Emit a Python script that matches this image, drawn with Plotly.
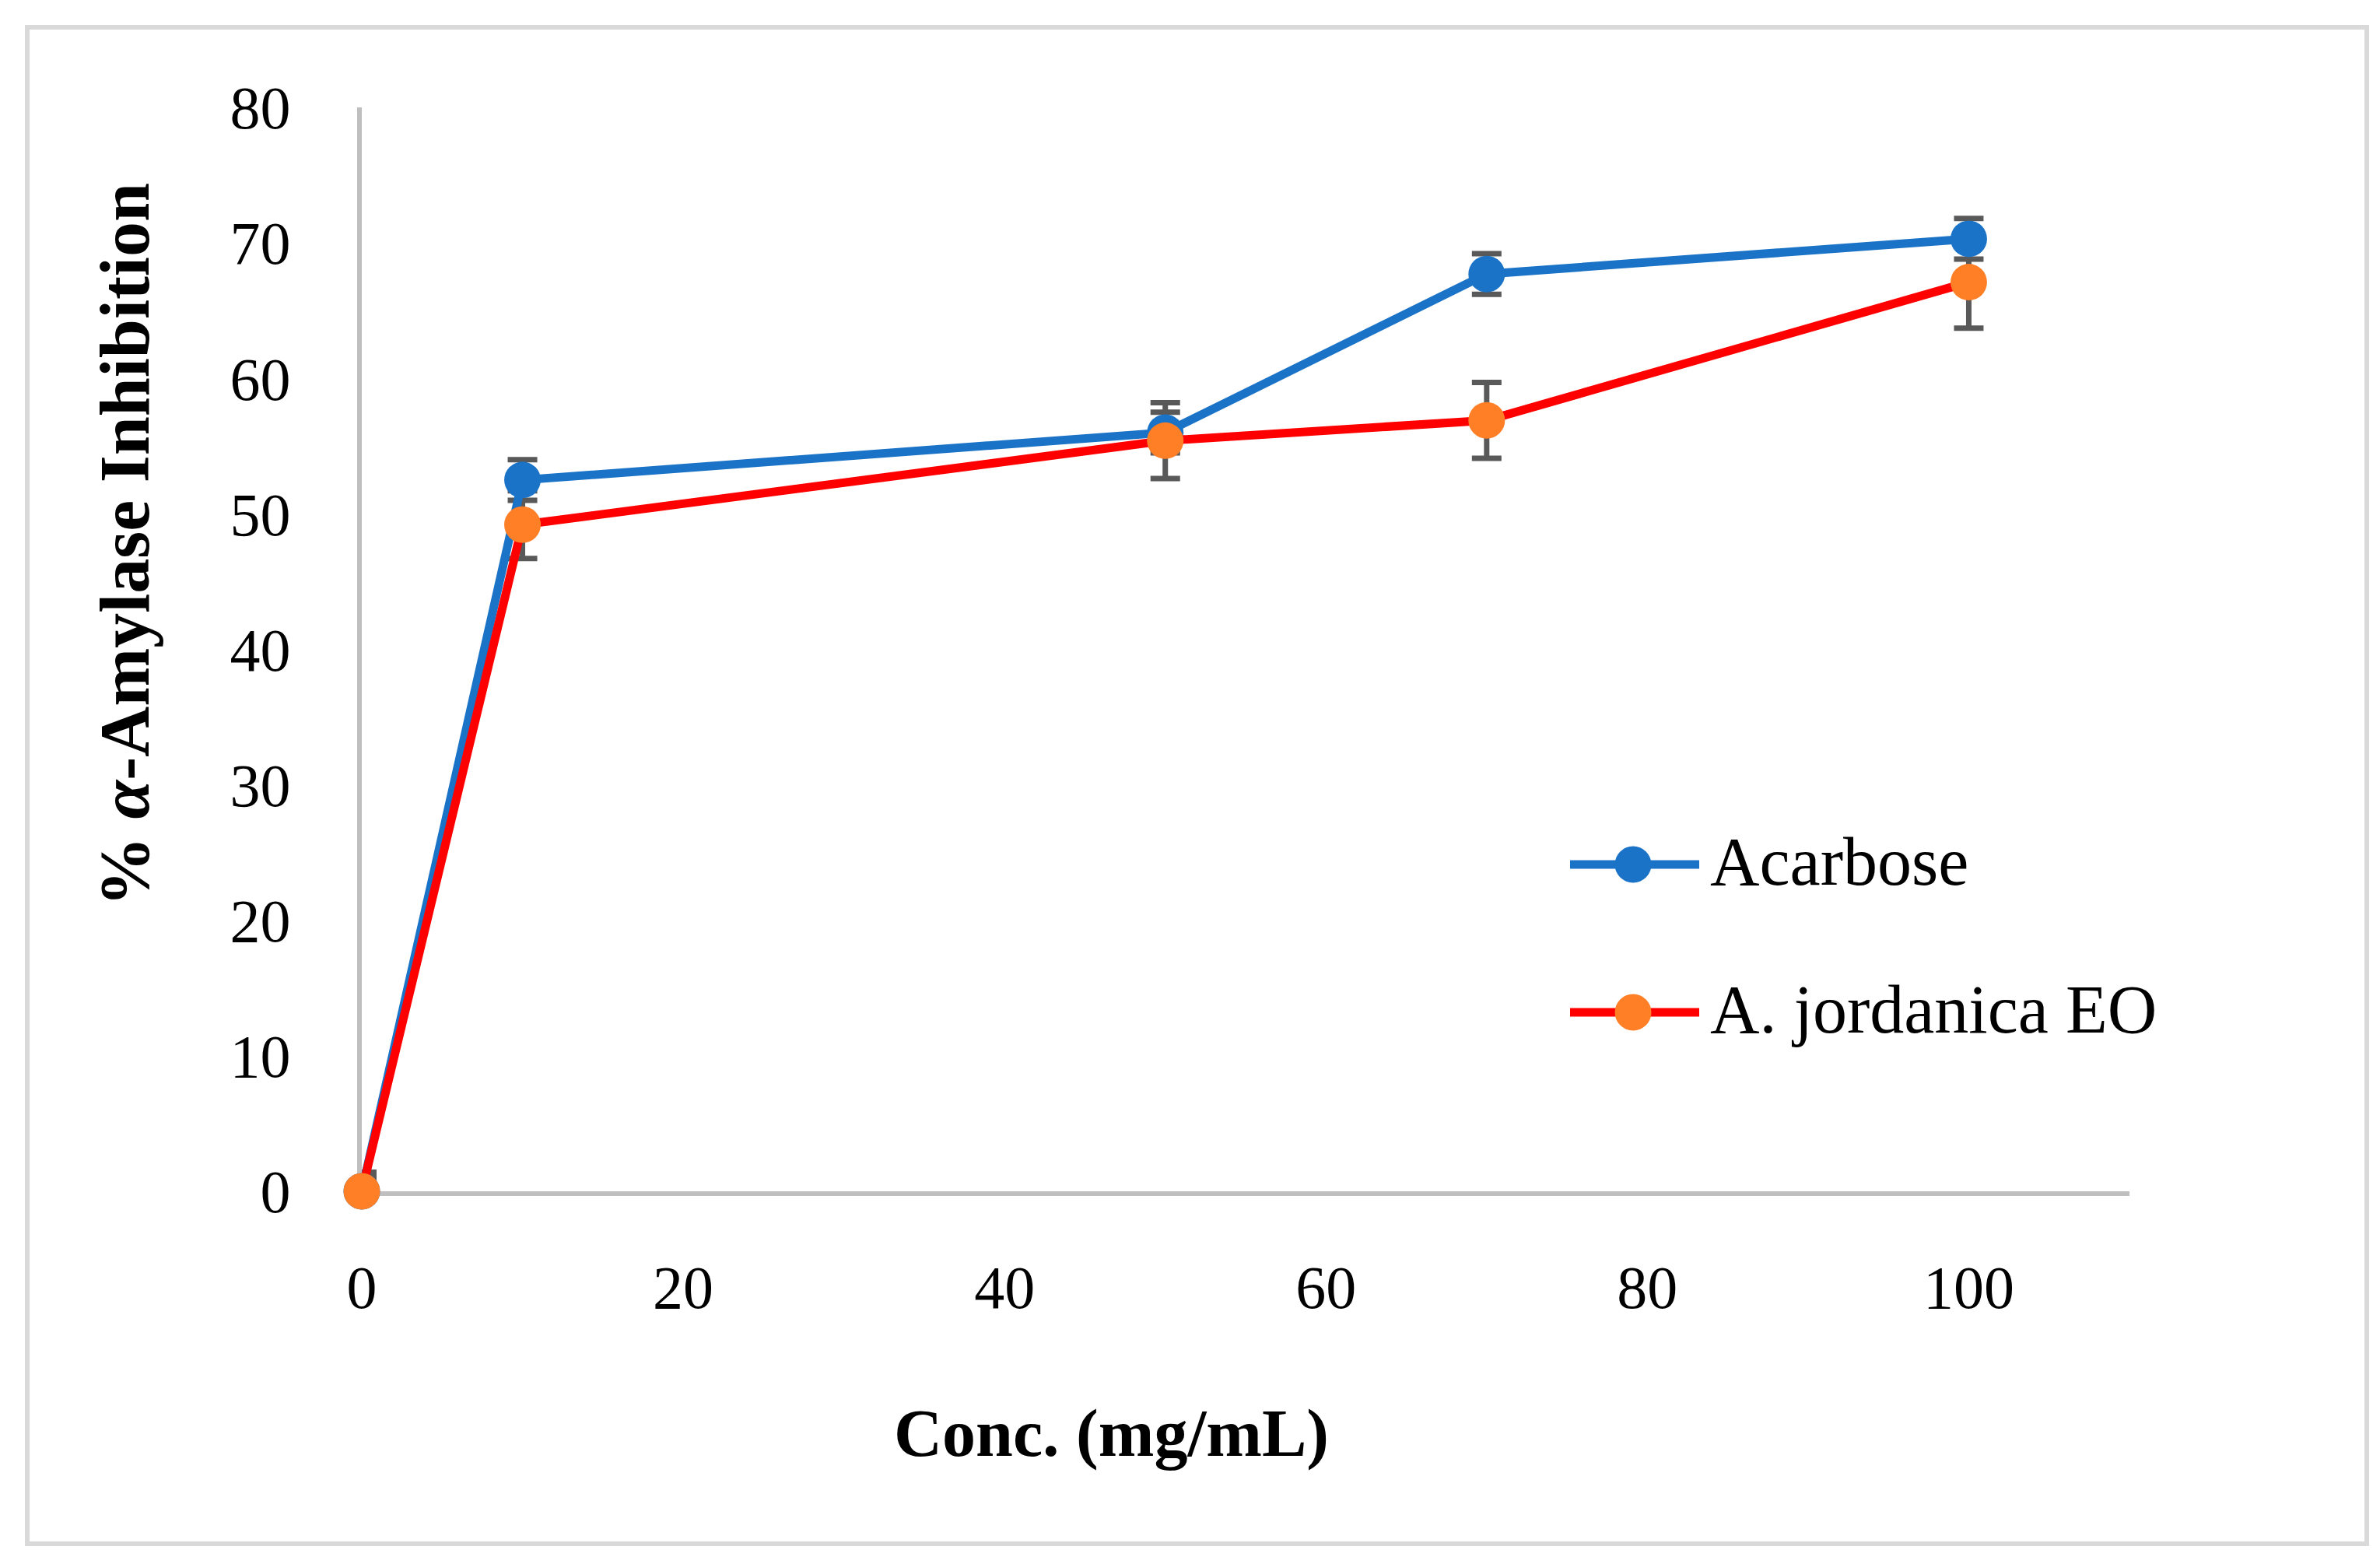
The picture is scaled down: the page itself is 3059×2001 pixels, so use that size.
import plotly.graph_objects as go

# ---------------- data ----------------
conc = [0, 10, 50, 70, 100]
acarbose = [0, 52.5, 56.0, 67.7, 70.3]
acarbose_err = [1.0, 1.5, 1.5, 1.5, 1.5]
jordanica = [0, 49.2, 55.4, 56.9, 67.1]
jordanica_err = [1.4, 2.5, 2.8, 2.8, 3.4]
series_names = ["Acarbose", "A. jordanica EO"]
x_ticks = [0, 20, 40, 60, 80, 100]
y_ticks = [0, 10, 20, 30, 40, 50, 60, 70, 80]
x_title = "Conc. (mg/mL)"
y_title = "<b>% <i>α</i>-Amylase Inhibition</b>"

# ---------------- style ----------------
W, H = 3059, 2001
L, R, T, B = 457, 2729, 130, 1523      # plot-area pixel bounds
BLUE = "#1A73C7"
RED = "#FF0000"
ORANGE = "#FF7F27"
ERR = "#595959"
AXIS = "#BFBFBF"
FONT = "Liberation Serif"
MS = 47
LW = 11


def px_x(p):
    return (p - L) / (R - L)


def px_y(p):
    return (B - p) / (B - T)


fig = go.Figure()

# error bars first (beneath all lines and markers)
for vals, errs in [(acarbose, acarbose_err), (jordanica, jordanica_err)]:
    fig.add_trace(go.Scatter(
        x=conc, y=vals, mode="markers",
        marker=dict(size=2, color="rgba(0,0,0,0)"),
        error_y=dict(type="data", array=errs, visible=True,
                     color=ERR, thickness=7, width=19),
        showlegend=False, hoverinfo="skip", cliponaxis=False,
    ))

fig.add_trace(go.Scatter(
    x=conc, y=acarbose, mode="lines+markers", name=series_names[0],
    line=dict(color=BLUE, width=LW),
    marker=dict(color=BLUE, size=MS),
    showlegend=False, cliponaxis=False,
))
fig.add_trace(go.Scatter(
    x=conc, y=jordanica, mode="lines+markers", name=series_names[1],
    line=dict(color=RED, width=LW),
    marker=dict(color=ORANGE, size=MS),
    showlegend=False, cliponaxis=False,
))

shapes = []
annotations = []

# outer light-grey frame
shapes.append(dict(type="rect", xref="paper", yref="paper",
                   x0=px_x(27), x1=px_x(3034), y0=px_y(1976), y1=px_y(27),
                   line=dict(color="#D9D9D9", width=6), layer="below"))

# legend (drawn manually to match large symbols)
leg_rows = [(1103, BLUE, BLUE, series_names[0]), (1293, RED, ORANGE, series_names[1])]
for yy, lc, mc, name in leg_rows:
    shapes.append(dict(type="line", xref="paper", yref="paper",
                       x0=px_x(2010), x1=px_x(2176), y0=px_y(yy), y1=px_y(yy),
                       line=dict(color=lc, width=LW)))
    shapes.append(dict(type="circle", xref="paper", yref="paper",
                       x0=px_x(2091 - MS / 2), x1=px_x(2091 + MS / 2),
                       y0=px_y(yy + MS / 2), y1=px_y(yy - MS / 2),
                       fillcolor=mc, line=dict(width=0)))
    annotations.append(dict(xref="paper", yref="paper", x=px_x(2188), y=px_y(yy - 4),
                            xanchor="left", yanchor="middle", showarrow=False,
                            text=name, font=dict(family=FONT, size=88, color="black")))

# axis titles
annotations.append(dict(xref="paper", yref="paper", x=px_x(1420), y=px_y(1834),
                        xanchor="center", yanchor="middle", showarrow=False,
                        text="<b>" + x_title + "</b>",
                        font=dict(family=FONT, size=86, color="black")))
annotations.append(dict(xref="paper", yref="paper", x=px_x(152), y=px_y(692),
                        xanchor="center", yanchor="middle", showarrow=False,
                        textangle=-90, text=y_title,
                        font=dict(family=FONT, size=90, color="black")))

fig.update_layout(
    width=W, height=H,
    margin=dict(l=L, r=W - R, t=T, b=H - B, pad=0),
    paper_bgcolor="white", plot_bgcolor="white",
    showlegend=False,
    shapes=shapes, annotations=annotations,
    font=dict(family=FONT, color="black"),
)
fig.update_xaxes(range=[0, 110], tickvals=x_ticks, ticktext=[str(v) for v in x_ticks],
                 showline=True, linecolor=AXIS, linewidth=6, showgrid=False,
                 zeroline=False, ticks="", ticklabelstandoff=50,
                 tickfont=dict(family=FONT, size=78, color="black"),
                 layer="below traces")
fig.update_yaxes(range=[0, 80], tickvals=y_ticks, ticktext=[str(v) for v in y_ticks],
                 showline=True, linecolor=AXIS, linewidth=6, showgrid=False,
                 zeroline=False, ticks="", ticklabelstandoff=70,
                 tickfont=dict(family=FONT, size=78, color="black"),
                 layer="below traces")

fig.write_html("out.html")
